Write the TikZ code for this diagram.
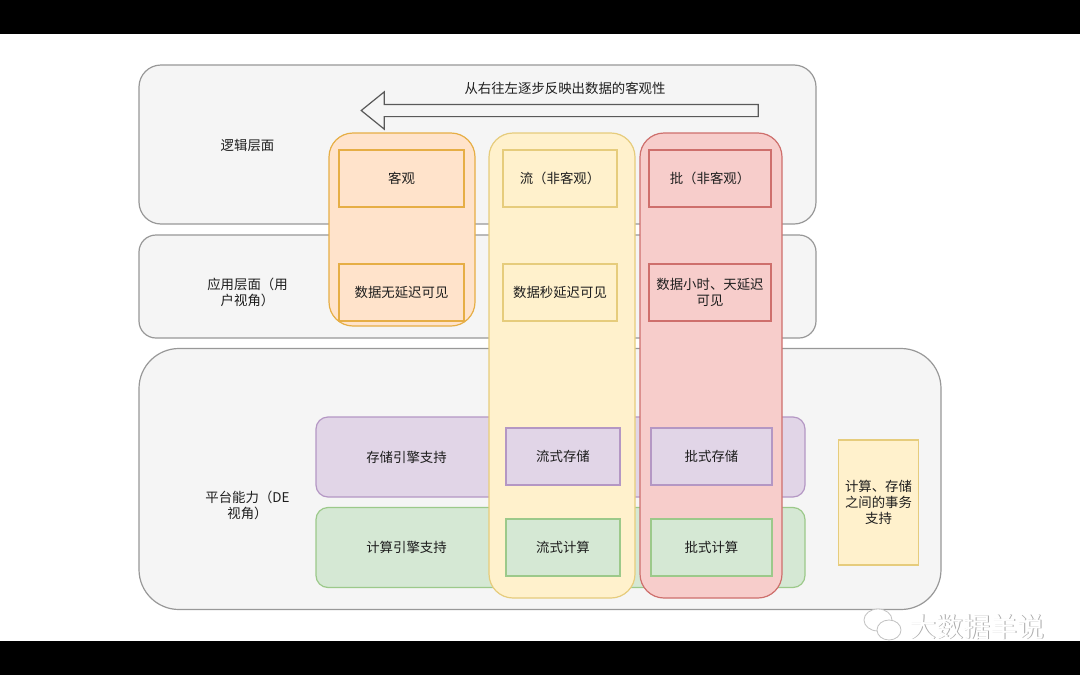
\documentclass[tikz,border=0pt]{standalone}
\usepackage{fontspec}
\setmainfont{Noto Sans CJK SC}
\usetikzlibrary{shapes.arrows}

\definecolor{panelfill}{HTML}{F5F5F5}
\definecolor{paneldraw}{HTML}{989898}
\definecolor{orangefill}{HTML}{FFE3CB}
\definecolor{orangedraw}{HTML}{E6AE45}
\definecolor{yellowfill}{HTML}{FFF1CC}
\definecolor{yellowdraw}{HTML}{E6CC7C}
\definecolor{redfill}{HTML}{F7CDCB}
\definecolor{reddraw}{HTML}{CE6F6C}
\definecolor{purplefill}{HTML}{E1D5E7}
\definecolor{purpledraw}{HTML}{B497C4}
\definecolor{greenfill}{HTML}{D5E8D4}
\definecolor{greendraw}{HTML}{9CC98A}
\definecolor{labelink}{HTML}{1E1E1E}
\definecolor{markgray}{HTML}{A8A8A8}

\tikzset{
  base/.style={inner sep=0pt,line width=1.2pt,text=labelink,align=center,
    font=\fontsize{13.4}{16}\selectfont},
  panel/.style={base,draw=paneldraw,fill=panelfill,rounded corners=#1},
  lane/.style={base,rounded corners=24pt},
  block/.style={base,rectangle},
  orangebox/.style={draw=orangedraw,fill=orangefill},
  yellowbox/.style={draw=yellowdraw,fill=yellowfill},
  redbox/.style={draw=reddraw,fill=redfill},
  purplebox/.style={draw=purpledraw,fill=purplefill},
  greenbox/.style={draw=greendraw,fill=greenfill},
  caption/.style={inner sep=0pt,text=labelink,align=center,
    font=\fontsize{13.4}{16}\selectfont}
}

\begin{document}
\begin{tikzpicture}[x=1pt,y=-1pt]
  \useasboundingbox (0,0) rectangle (1080,675);
  \fill[white] (0,0) rectangle (1080,675);
  \fill[black] (0,0) rectangle (1080,34);
  \fill[black] (0,641) rectangle (1080,675);

  % the three layers
  \node[panel=22pt,minimum width=677pt,minimum height=159pt] (logic) at (477.5,144.5) {};
  \node[panel=17pt,minimum width=677pt,minimum height=103pt] (app) at (477.5,286.5) {};
  \node[panel=40pt,minimum width=802pt,minimum height=261pt] (platform) at (540,479) {};
  \node[caption] (logiclabel) at (247.5,145) {逻辑层面};
  \node[caption] (applabel) at (247.5,292) {应用层面（用\\户视角）};
  \node[caption] (platformlabel) at (247.5,505) {平台能力（DE\\视角）};

  % engines behind the lanes
  \node[base,purplebox,rounded corners=12pt,minimum width=489pt,minimum height=80pt] (storage) at (560.5,457) {};
  \node[base,greenbox,rounded corners=12pt,minimum width=489pt,minimum height=80pt] (compute) at (560.5,547.5) {};
  \node[caption] (storagelabel) at (406.5,457) {存储引擎支持};
  \node[caption] (computelabel) at (406.5,547.5) {计算引擎支持};

  % lanes
  \node[lane,orangebox,minimum width=146pt,minimum height=193pt] (objective) at (402,229.5) {};
  \node[lane,yellowbox,minimum width=146pt,minimum height=465pt] (stream) at (562,365.5) {};
  \node[lane,redbox,minimum width=142pt,minimum height=465pt] (batch) at (711,365.5) {};

  % direction arrow
  \node[caption] (arrowlabel) at (565,88) {从右往左逐步反映出数据的客观性};
  \node[single arrow,draw=black!65,fill=panelfill,line width=1.2pt,inner xsep=0pt,inner ysep=5.5pt,
    shape border rotate=180,single arrow head extend=12.5pt,single arrow tip angle=78,
    minimum height=397pt] (direction) at (563.5,110.5) {};

  % boxes of the lanes
  \foreach \name/\cx/\cy/\boxw/\look/\txt in {
    objtop/401.5/178.5/125/orangebox/客观,
    objapp/401.5/292.5/125/orangebox/数据无延迟可见,
    streamtop/560/178.5/114/yellowbox/流（非客观）,
    streamapp/560/292.5/114/yellowbox/数据秒延迟可见,
    batchtop/710/178.5/122/redbox/批（非客观）,
    batchapp/710/292.5/122/redbox/数据小时、天延迟\\可见,
    streamstore/563/456.5/114/purplebox/流式存储,
    batchstore/711.5/456.5/121/purplebox/批式存储,
    streamcalc/563/547.5/114/greenbox/流式计算,
    batchcalc/711.5/547.5/121/greenbox/批式计算}
    \node[block,\look,minimum width=\boxw pt,minimum height=57pt] (\name) at (\cx,\cy) {\txt};

  \node[block,yellowbox,minimum width=80pt,minimum height=125pt] (txn) at (878.5,502.5) {};
  \node[caption] (txnlabel) at (878.5,502.5) {计算、存储\\之间的事务\\支持};

  % watermark
  \node[inner sep=0pt,text=markgray,font=\fontsize{27}{29}\selectfont] (markshade) at (977.7,627.7) {大数据羊说};
  \node[inner sep=0pt,text=white,font=\fontsize{27}{29}\selectfont] (mark) at (977,627) {大数据羊说};
  \draw[markgray!70,line width=.8pt,fill=white] (878,620) ellipse (14pt and 11pt);
  \draw[markgray!70,line width=.8pt,fill=white] (889,630) ellipse (12pt and 10pt);
\end{tikzpicture}
\end{document}
